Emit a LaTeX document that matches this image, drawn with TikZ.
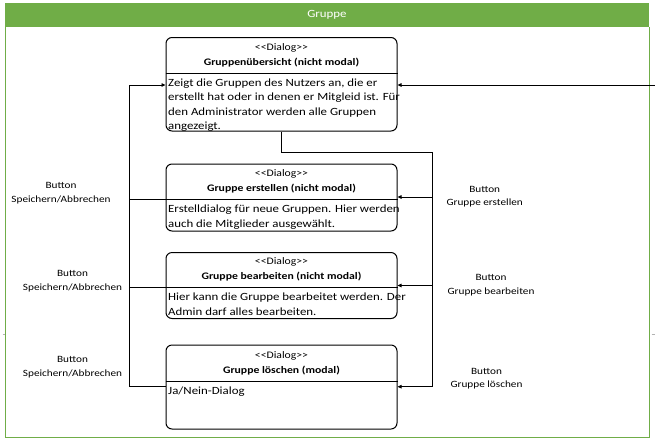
\documentclass[tikz,border=0pt]{standalone}
\usepackage{fontspec}
\setmainfont{Carlito}[FakeStretch=1.17]
\usetikzlibrary{arrows.meta}
\definecolor{grn}{HTML}{70AD47}
\newcommand\dlgtag{<\kern0pt<Dialog>\kern0pt>}
\begin{document}
\begin{tikzpicture}[x=1pt,y=-1pt,
  dlgbox/.style={draw=black,line width=1pt,rounded corners=6pt,inner sep=0pt,minimum width=231pt},
  hdr/.style={align=center,font=\fontsize{10}{14.8}\selectfont,inner sep=0pt},
  body/.style={align=left,anchor=north west,font=\fontsize{11}{14.3}\selectfont,inner sep=0pt},
  lbl/.style={align=center,font=\fontsize{9.6}{13.3}\selectfont,inner sep=0pt},
  conn/.style={draw=black,line width=0.8pt},
  arr/.style={conn,-{Triangle[length=4pt,width=3.5pt]}},
  sep/.style={draw=black,line width=0.8pt}]
\useasboundingbox (0,0) rectangle (655,445);
% frame
\fill[grn] (5,3) rectangle (649,27);
\node[text=white,font=\fontsize{11}{12}\selectfont,inner sep=0pt] (title) at (327,15) {Gruppe};
\draw[grn,line width=1.2pt] (5.5,27) -- (5.5,437.5) -- (649.5,437.5) -- (649.5,27);
\draw[gray!60,line width=0.6pt] (2.5,334) -- (5,334);
\draw[gray!60,line width=0.6pt] (651.5,334) -- (655,334);
% boxes
\node[dlgbox,minimum height=93.5pt] (b1) at (281.5,84.25) {};
\node[dlgbox,minimum height=67pt] (b2) at (281.5,197.5) {};
\node[dlgbox,minimum height=66pt] (b3) at (281.5,285.5) {};
\node[dlgbox,minimum height=84pt] (b4) at (281.5,387) {};
% dividers
\draw[sep] (b1.west |- 0,73.3) -- (b1.east |- 0,73.3);
\draw[sep] (b2.west |- 0,199.3) -- (b2.east |- 0,199.3);
\draw[sep] (b3.west |- 0,287.3) -- (b3.east |- 0,287.3);
\draw[sep] (b4.west |- 0,381) -- (b4.east |- 0,381);
% headers
\node[hdr] (h1) at (281.5,55) {\dlgtag\\\textbf{Gruppenübersicht (nicht modal)}};
\node[hdr] (h2) at (281.5,181) {\dlgtag\\\textbf{Gruppe erstellen (nicht modal)}};
\node[hdr] (h3) at (281.5,269.5) {\dlgtag\\\textbf{Gruppe bearbeiten (nicht modal)}};
\node[hdr] (h4) at (281.5,363.5) {\dlgtag\\\textbf{Gruppe löschen (modal)}};
% bodies
\node[body] (t1) at (168,78.8) {Zeigt die Gruppen des Nutzers an, die er\\erstellt hat oder in denen er Mitgleid ist. Für\\den Administrator werden alle Gruppen\\angezeigt.};
\node[body] (t2) at (168,205) {Erstelldialog für neue Gruppen. Hier werden\\auch die Mitglieder ausgewählt.};
\node[body] (t3) at (168,293) {Hier kann die Gruppe bearbeitet werden. Der\\Admin darf alles bearbeiten.};
\node[body] (t4) at (168,386.5) {Ja/Nein-Dialog};
% left connectors
\draw[arr] (b4.west |- 0,386) -- (129.5,386) -- (129.5,85) -- (b1.west |- 0,85);
\draw[conn] (b2.west |- 0,199.3) -- (129.5,199.3);
\draw[conn] (b3.west |- 0,287) -- (129.5,287);
% right connectors
\coordinate (inR) at (655,85);
\draw[arr] (inR) -- (b1.east |- 0,85);
\draw[arr] (b1.south) -- (281.5,152.7) -- (432.3,152.7) -- (432.3,386.7) -- (b4.east |- 0,386.7);
\draw[arr] (432.3,197) -- (b2.east |- 0,197);
\draw[arr] (432.3,285.5) -- (b3.east |- 0,285.5);
% labels
\node[lbl] (l1) at (61,193.3) {Button\\Speichern/Abbrechen};
\node[lbl] (l2) at (72.5,281.3) {Button\\Speichern/Abbrechen};
\node[lbl] (l3) at (72.5,367.2) {Button\\Speichern/Abbrechen};
\node[lbl] (r1) at (484.7,196.5) {Button\\Gruppe erstellen};
\node[lbl] (r2) at (491,285.3) {Button\\Gruppe bearbeiten};
\node[lbl] (r3) at (486.5,378.5) {Button\\Gruppe löschen};
\end{tikzpicture}
\end{document}
